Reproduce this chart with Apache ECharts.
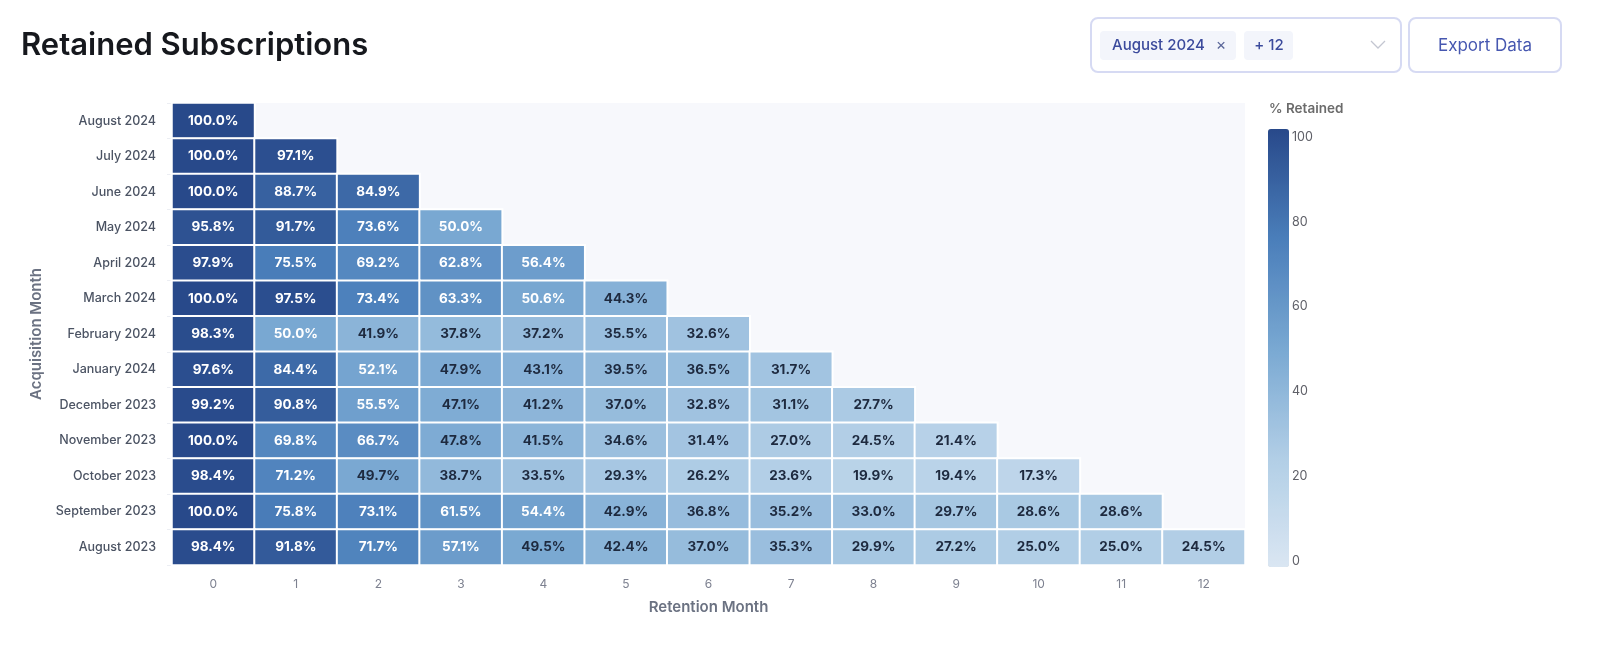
<!DOCTYPE html>
<html>
<head>
<meta charset="utf-8">
<script src="https://cdn.jsdelivr.net/npm/echarts@6/dist/echarts.min.js"></script>
<style>
html,body{margin:0;padding:0;background:#fff;}
#chart{width:1600px;height:645px;}
</style>
</head>
<body>
<div id="chart"></div>
<script>
// Acquisition months, top to bottom
const acquisitionMonths = ['August 2024','July 2024','June 2024','May 2024','April 2024','March 2024','February 2024','January 2024','December 2023','November 2023','October 2023','September 2023','August 2023'];
// Retention month indices
const retentionMonths = ['0','1','2','3','4','5','6','7','8','9','10','11','12'];
// % retained per cohort row (same order as acquisitionMonths)
const rowAug2024 = [100.0];
const rowJul2024 = [100.0, 97.1];
const rowJun2024 = [100.0, 88.7, 84.9];
const rowMay2024 = [95.8, 91.7, 73.6, 50.0];
const rowApr2024 = [97.9, 75.5, 69.2, 62.8, 56.4];
const rowMar2024 = [100.0, 97.5, 73.4, 63.3, 50.6, 44.3];
const rowFeb2024 = [98.3, 50.0, 41.9, 37.8, 37.2, 35.5, 32.6];
const rowJan2024 = [97.6, 84.4, 52.1, 47.9, 43.1, 39.5, 36.5, 31.7];
const rowDec2023 = [99.2, 90.8, 55.5, 47.1, 41.2, 37.0, 32.8, 31.1, 27.7];
const rowNov2023 = [100.0, 69.8, 66.7, 47.8, 41.5, 34.6, 31.4, 27.0, 24.5, 21.4];
const rowOct2023 = [98.4, 71.2, 49.7, 38.7, 33.5, 29.3, 26.2, 23.6, 19.9, 19.4, 17.3];
const rowSep2023 = [100.0, 75.8, 73.1, 61.5, 54.4, 42.9, 36.8, 35.2, 33.0, 29.7, 28.6, 28.6];
const rowAug2023 = [98.4, 91.8, 71.7, 57.1, 49.5, 42.4, 37.0, 35.3, 29.9, 27.2, 25.0, 25.0, 24.5];
const legendTicks = [0, 20, 40, 60, 80, 100];

const rows = [rowAug2024,rowJul2024,rowJun2024,rowMay2024,rowApr2024,rowMar2024,rowFeb2024,rowJan2024,rowDec2023,rowNov2023,rowOct2023,rowSep2023,rowAug2023];

const data = [];
rows.forEach((vals, r) => {
  vals.forEach((v, c) => {
    data.push({
      value: [c, r, v],
      label: { color: v >= 50 ? '#ffffff' : '#1e2a3f' }
    });
  });
});

const FONT = 'Inter, "Noto Sans", sans-serif';
const chart = echarts.init(document.getElementById('chart'), null, { renderer: 'canvas' });

chart.setOption({
  animation: false,
  textStyle: { fontFamily: FONT },
  grid: [
    { left: 172, right: 355, top: 103, bottom: 80, show: true, backgroundColor: '#f7f8fc', borderWidth: 0 },
    { left: 1288, width: 1, top: 137, bottom: 84, show: false }
  ],
  xAxis: [
    {
      type: 'category', data: retentionMonths, gridIndex: 0,
      name: 'Retention Month', nameLocation: 'middle', nameGap: 35,
      nameTextStyle: { fontFamily: FONT, fontSize: 15, fontWeight: 600, color: '#6b7282' },
      axisLine: { show: false },
      axisTick: { show: false },
      axisLabel: { color: '#7d8190', fontSize: 12, margin: 13 },
      splitArea: { show: false }
    },
    { type: 'value', gridIndex: 1, show: false }
  ],
  yAxis: [
    {
      type: 'category', data: acquisitionMonths, gridIndex: 0, inverse: true,
      name: 'Acquisition Month', nameLocation: 'middle', nameGap: 128, nameRotate: 90,
      nameTextStyle: { fontFamily: FONT, fontSize: 15, fontWeight: 600, color: '#6b7282' },
      axisLine: { show: false },
      axisTick: { show: true, length: 5, lineStyle: { color: '#eceef3' } },
      axisLabel: { color: '#4b5363', fontSize: 12.5, fontWeight: 500, margin: 16 },
      splitArea: { show: false }
    },
    {
      type: 'value', gridIndex: 1, min: 0, max: 100, interval: 20, position: 'right',
      axisLine: { show: false }, axisTick: { show: false }, splitLine: { show: false },
      axisLabel: { color: '#5f6068', fontSize: 12.5, margin: 3, customValues: legendTicks }
    }
  ],
  visualMap: {
    type: 'continuous', min: 0, max: 100, calculable: false,
    orient: 'vertical', left: 1253, top: 114,
    itemWidth: 21, itemHeight: 438,
    text: null, showLabel: false,
    seriesIndex: 0,
    inRange: { color: ['#dae6f2', '#b1cee6', '#79a8d2', '#4a7eba', '#28498a'] }
  },
  graphic: [
    { type: 'text', x: 21, y: 45.5,
      style: { text: 'Retained Subscriptions', font: '600 31px ' + FONT, fill: '#16181d', verticalAlign: 'middle' } },
    { type: 'text', x: 1269, y: 109,
      style: { text: '% Retained', font: '600 13.5px ' + FONT, fill: '#6b6b6b', verticalAlign: 'middle' } },
    // multi-select box
    { type: 'rect', shape: { x: 1091, y: 18, width: 310, height: 54, r: 7 },
      style: { fill: '#ffffff', stroke: '#d6daf3', lineWidth: 2 } },
    { type: 'rect', shape: { x: 1100, y: 31, width: 136, height: 29, r: 4 },
      style: { fill: '#f3f5fb' } },
    { type: 'text', x: 1112, y: 45.5,
      style: { text: 'August 2024', font: '500 15px ' + FONT, fill: '#3b4a9c', verticalAlign: 'middle' } },
    { type: 'text', x: 1221, y: 45.5,
      style: { text: '×', font: '400 16px ' + FONT, fill: '#5a6699', align: 'center', verticalAlign: 'middle' } },
    { type: 'rect', shape: { x: 1244, y: 31, width: 49, height: 29, r: 4 },
      style: { fill: '#f3f5fb' } },
    { type: 'text', x: 1269, y: 45.5,
      style: { text: '+ 12', font: '500 15px ' + FONT, fill: '#3b4a9c', align: 'center', verticalAlign: 'middle' } },
    { type: 'polyline', shape: { points: [[1371, 41], [1378, 48], [1385, 41]] },
      style: { stroke: '#c3c6d1', lineWidth: 1.3, fill: null } },
    // export button
    { type: 'rect', shape: { x: 1409, y: 18, width: 152, height: 54, r: 7 },
      style: { fill: '#ffffff', stroke: '#d6daf3', lineWidth: 2 } },
    { type: 'text', x: 1485, y: 45.5,
      style: { text: 'Export Data', font: '400 17px ' + FONT, fill: '#4657b0', align: 'center', verticalAlign: 'middle' } }
  ],
  series: [{
    type: 'heatmap',
    xAxisIndex: 0, yAxisIndex: 0,
    data: data,
    itemStyle: { borderColor: '#ffffff', borderWidth: 2 },
    label: {
      show: true, fontSize: 13.5, fontWeight: 700, fontFamily: FONT,
      formatter: p => p.value[2].toFixed(1) + '%'
    },
    emphasis: { disabled: true }
  }]
});
</script>
</body>
</html>
